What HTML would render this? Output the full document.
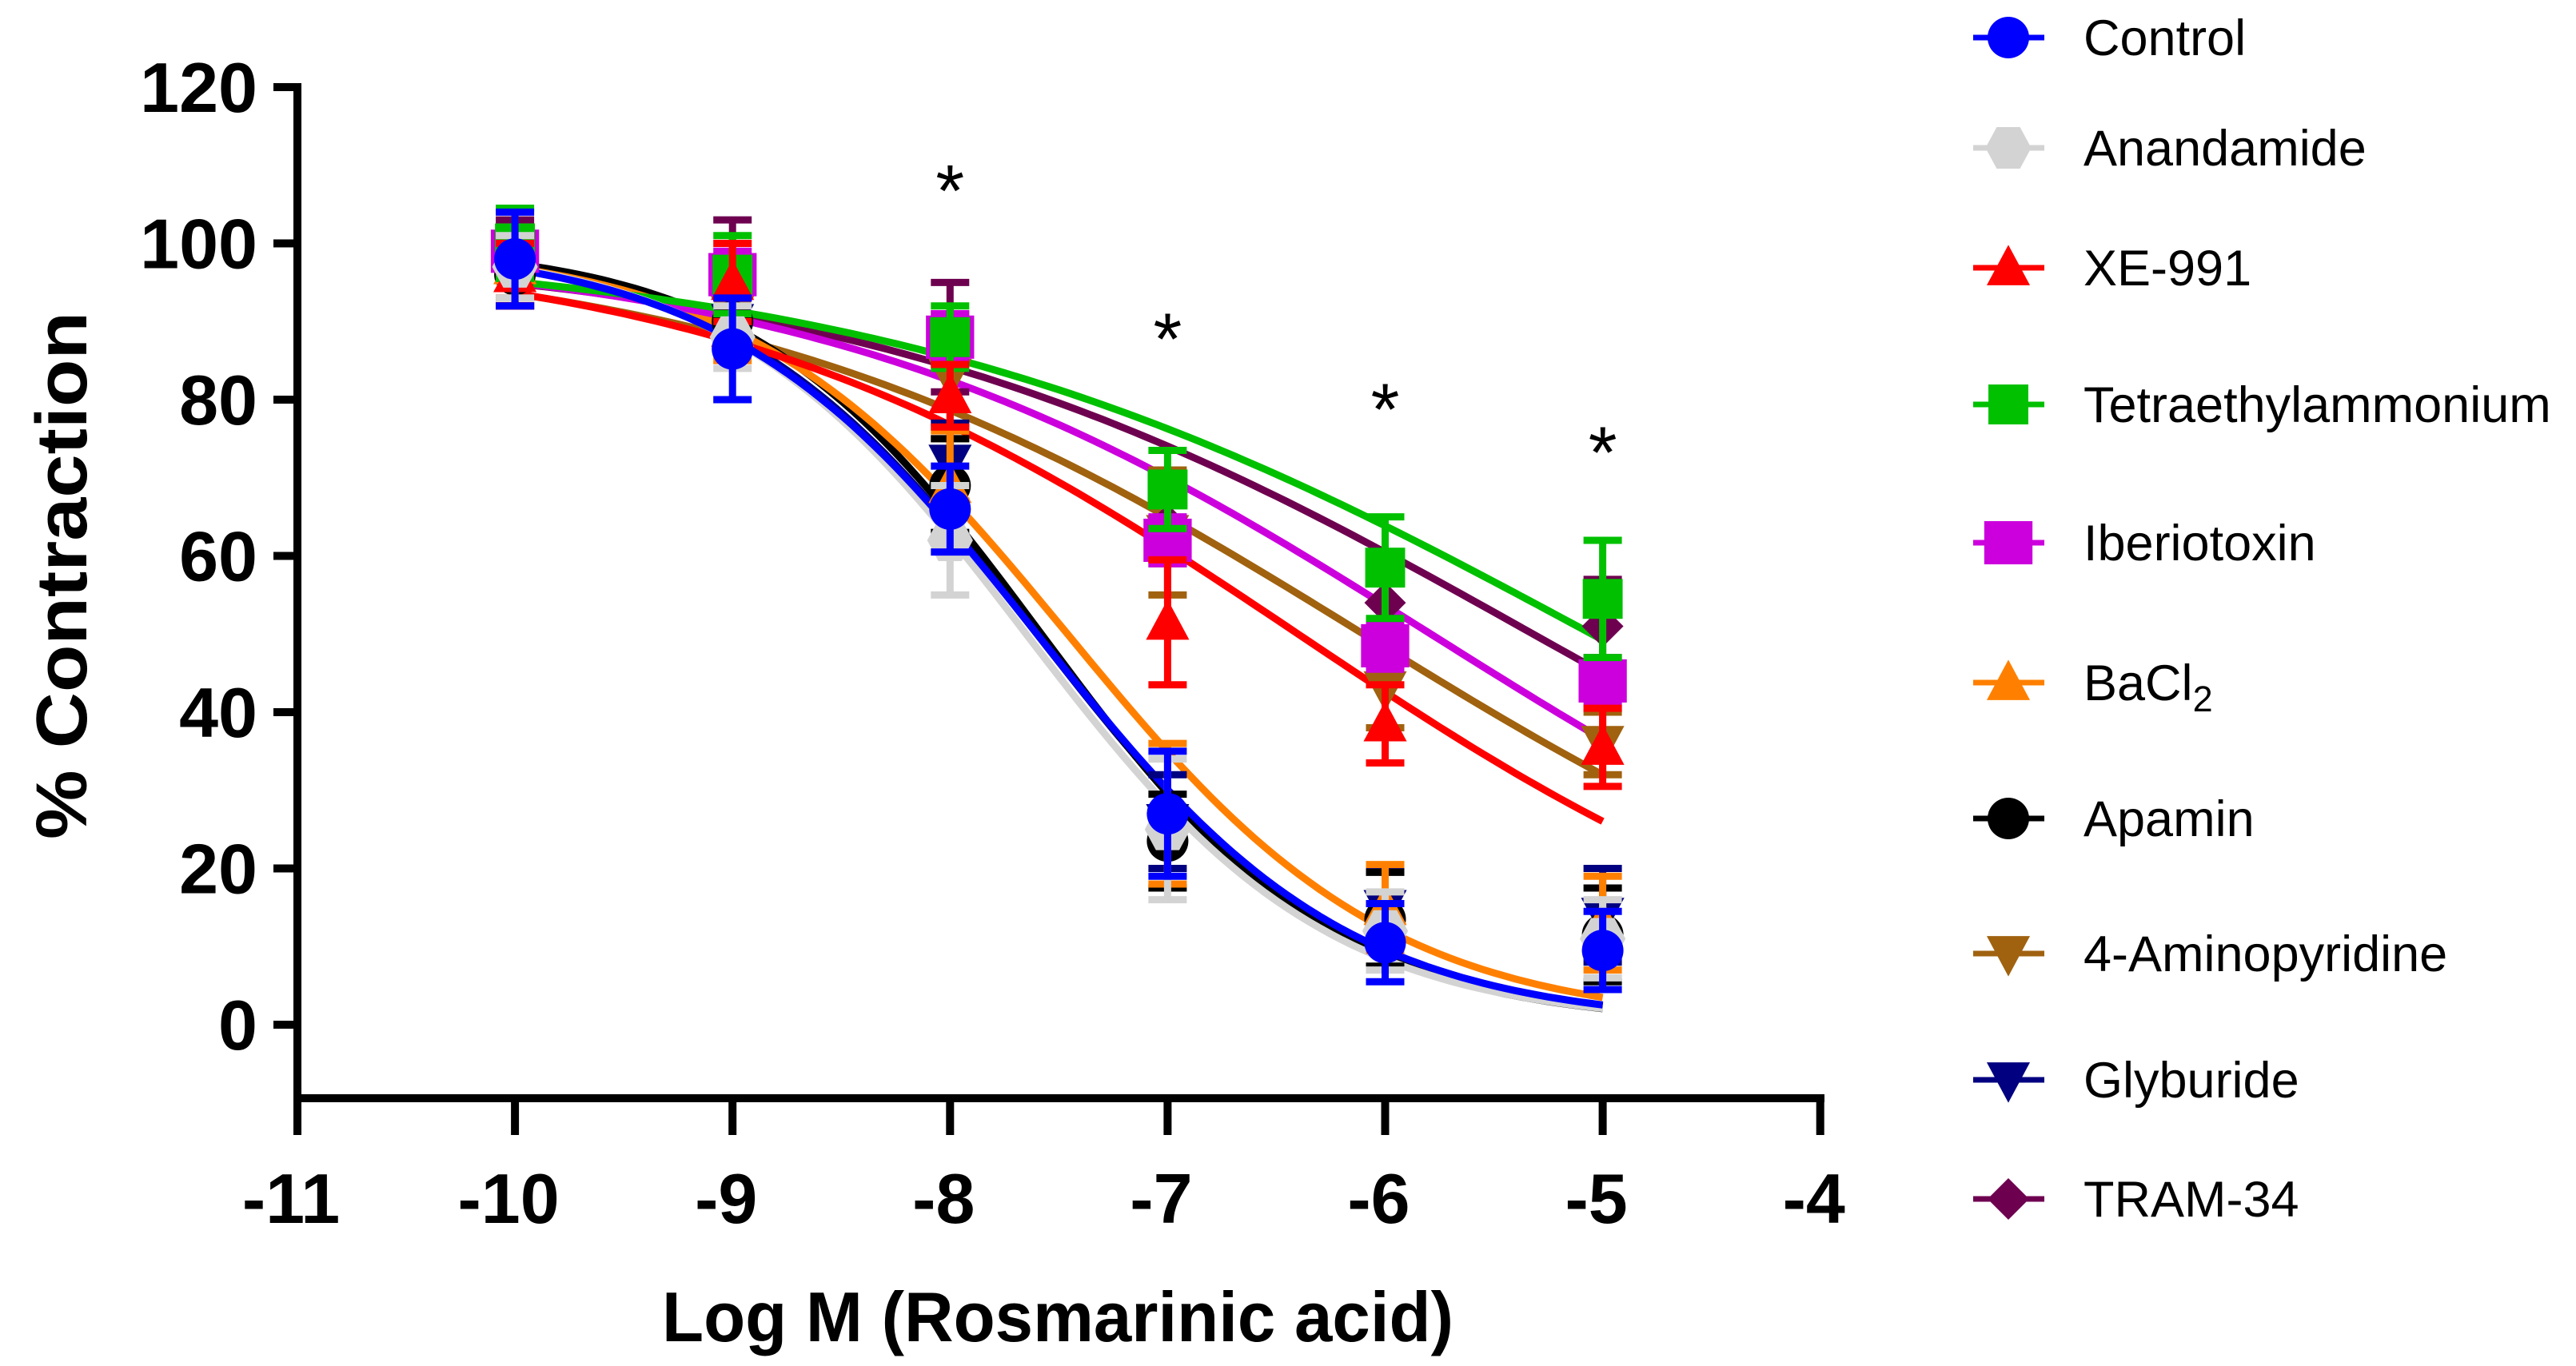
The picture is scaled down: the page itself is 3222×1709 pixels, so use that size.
<!DOCTYPE html>
<html><head><meta charset="utf-8"><style>
html,body{margin:0;padding:0;background:#fff;}
svg{display:block;font-family:"Liberation Sans",Arial,sans-serif;}
</style></head><body>
<svg id="chart" width="3222" height="1709" viewBox="0 0 3222 1709" xmlns="http://www.w3.org/2000/svg">
<g id="curves"></g>
<g id="points"></g>
<g id="axes"></g>
<g id="legend"></g>
</svg>
<script>
const xValues = [-10, -9, -8, -7, -6, -5];
const xTicks = [-11, -10, -9, -8, -7, -6, -5, -4];
const yTicks = [0, 20, 40, 60, 80, 100, 120];
const seriesNames = ["Control","Anandamide","XE-991","Tetraethylammonium","Iberiotoxin","BaCl2","Apamin","4-Aminopyridine","Glyburide","TRAM-34"];
const seriesColors = ["#0000ff","#d3d3d3","#ff0000","#00c000","#cc00dd","#ff8000","#000000","#a0620f","#000080","#6e0050"];
const seriesMarkers = ["circle","hexagon","tri-up","square","square-big","tri-up","circle","tri-down","tri-down","diamond"];
const meanControl = [98, 86.5, 66, 27, 10.5, 9.5];
const semControl = [6, 6.5, 5.5, 8, 5, 5];
const meanAnandamide = [97, 88, 62, 25, 12, 11];
const semAnandamide = [4, 4, 7, 9, 5, 5];
const meanXE991 = [96, 95, 80.5, 51.5, 38.5, 35.5];
const semXE991 = [4, 5, 4, 8, 5, 5];
const meanTEA = [100, 96, 88, 68.5, 58.5, 54.5];
const semTEA = [4.5, 5, 4, 5, 6.5, 7.5];
const meanIbtx = [99, 96, 88, 62, 48.5, 44];
const semIbtx = [3, 3, 3, 3, 3, 3];
const meanBaCl2 = [97, 89, 69, 27, 15, 13];
const semBaCl2 = [4, 4, 7, 9, 5.5, 6];
const meanApamin = [96, 90, 69, 23.5, 13.5, 11.5];
const semApamin = [4, 4, 6, 6, 6, 6];
const mean4AP = [96, 91, 83, 63, 43, 36];
const sem4AP = [4, 4, 8, 8, 5, 4];
const meanGlyb = [96, 90, 72, 26, 15, 14];
const semGlyb = [4, 4, 5, 6, 5, 6];
const meanTRAM = [98, 97, 88, 64, 54, 51];
const semTRAM = [5, 6, 7, 5, 5, 6];
const fitLogIC50 = [-7.6, -7.65, -6.40, -5.05, -5.79, -7.46, -7.58, -6.10, -7.6, -5.32];
const fitHill = [0.61, 0.63, 0.324, 0.26, 0.304, 0.586, 0.65, 0.298, 0.62, 0.271];
const starX = [-8, -7, -6, -5];
const starY = [108, 89, 80, 74.5];

const means = [meanControl, meanAnandamide, meanXE991, meanTEA, meanIbtx, meanBaCl2, meanApamin, mean4AP, meanGlyb, meanTRAM];
const sems = [semControl, semAnandamide, semXE991, semTEA, semIbtx, semBaCl2, semApamin, sem4AP, semGlyb, semTRAM];

const NS = "http://www.w3.org/2000/svg";
function sx(v){ return 372 + (v + 11) * 272.1; }
function sy(v){ return 1282 - v * 9.775; }
function mk(tag, attrs, parent){ const e = document.createElementNS(NS, tag); for (const k in attrs) e.setAttribute(k, attrs[k]); parent.appendChild(e); return e; }

function marker(type, cx, cy, color, s, parent){
  let e;
  if (type === "circle") e = mk("circle", {cx:cx, cy:cy, r:s*0.5, fill:color}, parent);
  else if (type === "square") e = mk("rect", {x:cx-s*0.48, y:cy-s*0.48, width:s*0.96, height:s*0.96, fill:color}, parent);
  else if (type === "square-big") e = mk("rect", {x:cx-s*0.58, y:cy-s*0.52, width:s*1.16, height:s*1.04, fill:color}, parent);
  else if (type === "tri-up") e = mk("polygon", {points:`${cx},${cy-s*0.55} ${cx+s*0.52},${cy+s*0.42} ${cx-s*0.52},${cy+s*0.42}`, fill:color}, parent);
  else if (type === "tri-down") e = mk("polygon", {points:`${cx},${cy+s*0.55} ${cx+s*0.52},${cy-s*0.42} ${cx-s*0.52},${cy-s*0.42}`, fill:color}, parent);
  else if (type === "diamond") e = mk("polygon", {points:`${cx},${cy-s*0.5} ${cx+s*0.5},${cy} ${cx},${cy+s*0.5} ${cx-s*0.5},${cy}`, fill:color}, parent);
  else e = mk("polygon", {points:`${cx-s*0.28},${cy-s*0.5} ${cx+s*0.28},${cy-s*0.5} ${cx+s*0.55},${cy} ${cx+s*0.28},${cy+s*0.5} ${cx-s*0.28},${cy+s*0.5} ${cx-s*0.55},${cy}`, fill:color}, parent);
  return e;
}

const curves = document.getElementById("curves");
const points = document.getElementById("points");
for (let i = seriesNames.length - 1; i >= 0; i--) {
  let d = "";
  for (let k = 0; k <= 100; k++) {
    const x = -10 + k * 0.05;
    const y = 100 / (1 + Math.pow(10, (x - fitLogIC50[i]) * fitHill[i]));
    d += (k ? "L" : "M") + sx(x).toFixed(1) + "," + sy(y).toFixed(1);
  }
  const p = mk("path", {d:d, fill:"none", stroke:seriesColors[i], "stroke-width":9}, curves);
  
  
}
for (let i = seriesNames.length - 1; i >= 0; i--) {
  const g = mk("g", {}, points);
  
  
  for (let j = 0; j < xValues.length; j++) {
    const cx = sx(xValues[j]), m = means[i][j], e = sems[i][j], c = seriesColors[i];
    const y1 = sy(m + e), y2 = sy(m - e);
    mk("line", {x1:cx, y1:y1, x2:cx, y2:y2, stroke:c, "stroke-width":9}, g);
    mk("line", {x1:cx-24, y1:y1, x2:cx+24, y2:y1, stroke:c, "stroke-width":9}, g);
    mk("line", {x1:cx-24, y1:y2, x2:cx+24, y2:y2, stroke:c, "stroke-width":9}, g);
    const mkEl = marker(seriesMarkers[i], cx, sy(m), c, 52, g);
    
    
  }
}
for (let k = 0; k < starX.length; k++) {
  const t = mk("text", {x:sx(starX[k]), y:sy(starY[k]) + 44, "font-size":92, "text-anchor":"middle", fill:"#000"}, points);
  t.textContent = "*";
  
  
}

const axes = document.getElementById("axes");
const ya = mk("line", {x1:372, y1:104, x2:372, y2:1379, stroke:"#000", "stroke-width":10}, axes);


const xa = mk("line", {x1:367, y1:1374, x2:2282, y2:1374, stroke:"#000", "stroke-width":10}, axes);


for (const v of yTicks) {
  mk("line", {x1:342, y1:sy(v), x2:372, y2:sy(v), stroke:"#000", "stroke-width":10}, axes);
  const t = mk("text", {x:322, y:sy(v)+31, "font-size":88, "font-weight":"bold", "text-anchor":"end"}, axes);
  t.textContent = v;
  
  
}
for (const v of xTicks) {
  mk("line", {x1:sx(v), y1:1374, x2:sx(v), y2:1420, stroke:"#000", "stroke-width":10}, axes);
  const t = mk("text", {x:sx(v)-8, y:1530, "font-size":88, "font-weight":"bold", "text-anchor":"middle"}, axes);
  t.textContent = v;
  
  
}
const xt = mk("text", {x:1323, y:1678, "font-size":88, "font-weight":"bold", "text-anchor":"middle", textLength:990, lengthAdjust:"spacingAndGlyphs"}, axes);
xt.textContent = "Log M (Rosmarinic acid)";


const yt = mk("text", {x:0, y:0, "font-size":90, "font-weight":"bold", "text-anchor":"middle", transform:"translate(108,720) rotate(-90)", textLength:660, lengthAdjust:"spacingAndGlyphs"}, axes);
yt.textContent = "% Contraction";



const legend = document.getElementById("legend");
const legendY = [47, 185, 335, 506, 679, 854, 1024, 1193, 1351, 1500];
for (let i = 0; i < seriesNames.length; i++) {
  const g = mk("g", {}, legend);
  
  
  const y = legendY[i];
  mk("line", {x1:2468, y1:y, x2:2557, y2:y, stroke:seriesColors[i], "stroke-width":7}, g);
  marker(seriesMarkers[i], 2512, y, seriesColors[i], 52, g);
  const t = mk("text", {x:2606, y:y+22, "font-size":63}, g);
  if (seriesNames[i] === "BaCl2") {
    t.textContent = "BaCl";
    const s = mk("tspan", {"font-size":45, dy:14}, t);
    s.textContent = "2";
  } else t.textContent = seriesNames[i];
}
</script>
</body></html>
